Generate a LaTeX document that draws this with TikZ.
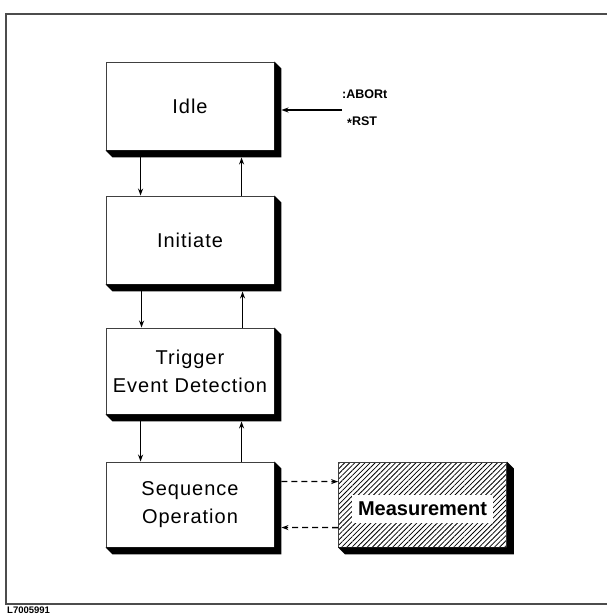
\documentclass[tikz,border=0pt]{standalone}
\usepackage{fontspec}
\setmainfont{Liberation Sans}
\newfontfamily\boxfont[LetterSpace=5]{Liberation Sans}
\usetikzlibrary{arrows.meta,patterns.meta}
\tikzset{
  box/.style={draw=black!75, line width=0.9pt, fill=white, minimum width=168pt, minimum height=88pt, inner sep=0pt, align=center, font=\boxfont\fontsize{20}{28}\selectfont},
  arr/.style={line width=1.3pt, -{Stealth[length=7pt,width=5pt]}},
  darr/.style={arr, dash pattern=on 6pt off 4pt},
  small/.style={font=\bfseries\fontsize{12.5}{14}\selectfont, inner sep=0pt},
  frameline/.style={draw=black!70, line width=1.2pt}
}
\newcommand{\shadowof}[1]{\fill[black] (#1.north east) -- ++(7,7) -- ([xshift=7pt,yshift=-7pt]#1.south east) -- ([xshift=7pt,yshift=-7pt]#1.south west) -- (#1.south west) -- (#1.south east) -- cycle;}
\begin{document}
\begin{tikzpicture}[x=1pt,y=-1pt]
\useasboundingbox (0,0) rectangle (606,614);
\fill[white] (0,0) rectangle (606,614);
% frame
\draw[frameline] (612,14) -- (6,14) -- (6,604) -- (612,604);
\node[anchor=north west, inner sep=0pt, font=\bfseries\fontsize{9.5}{11}\selectfont] (lbl) at (7,606.3) {L7005991};
% boxes
\node[box] (idle) at (190,106) {Idle};
\node[box] (init) at (190,240) {Initiate};
\node[box, minimum height=86pt] (trig) at (190,371) {Trigger\\Event Detection};
\node[box, minimum height=85pt] (seq) at (190,504.5) {Sequence\\Operation};
\node[box, minimum height=85pt, pattern={Lines[angle=45,distance=3.6pt,line width=0.8pt]}] (meas) at (422.5,504.5) {};
\node[fill=white, inner sep=0pt, minimum width=141pt, minimum height=28pt, font=\bfseries\fontsize{20}{24}\selectfont] (mlbl) at (422.5,509) {Measurement};
\shadowof{idle}
\shadowof{init}
\shadowof{trig}
\shadowof{seq}
\shadowof{meas}
% vertical arrows
\draw[arr] ([xshift=35pt,yshift=-7pt]idle.south west) -- ([xshift=35pt]init.north west);
\draw[arr] ([xshift=136pt]init.north west) -- ([xshift=136pt,yshift=-7pt]idle.south west);
\draw[arr] ([xshift=36pt,yshift=-7pt]init.south west) -- ([xshift=36pt]trig.north west);
\draw[arr] ([xshift=137pt]trig.north west) -- ([xshift=137pt,yshift=-7pt]init.south west);
\draw[arr] ([xshift=35pt,yshift=-7pt]trig.south west) -- ([xshift=35pt]seq.north west);
\draw[arr] ([xshift=136pt]seq.north west) -- ([xshift=136pt,yshift=-7pt]trig.south west);
% dashed arrows
\draw[darr] ([xshift=7pt,yshift=-20pt]seq.north east) -- ([yshift=-20pt]meas.north west);
\draw[darr] ([yshift=-66pt]meas.north west) -- ([xshift=7pt,yshift=-66pt]seq.north east);
% abort
\node[small, anchor=west] (abort) at (342,94) {:ABORt};
\node[small, anchor=west] (rst) at (347,122) {\raisebox{-2.5pt}{*}RST};
\coordinate (ab) at (342,110);
\draw[arr] (ab) -- ([xshift=7pt,yshift=-4pt]idle.east);
\end{tikzpicture}
\end{document}
